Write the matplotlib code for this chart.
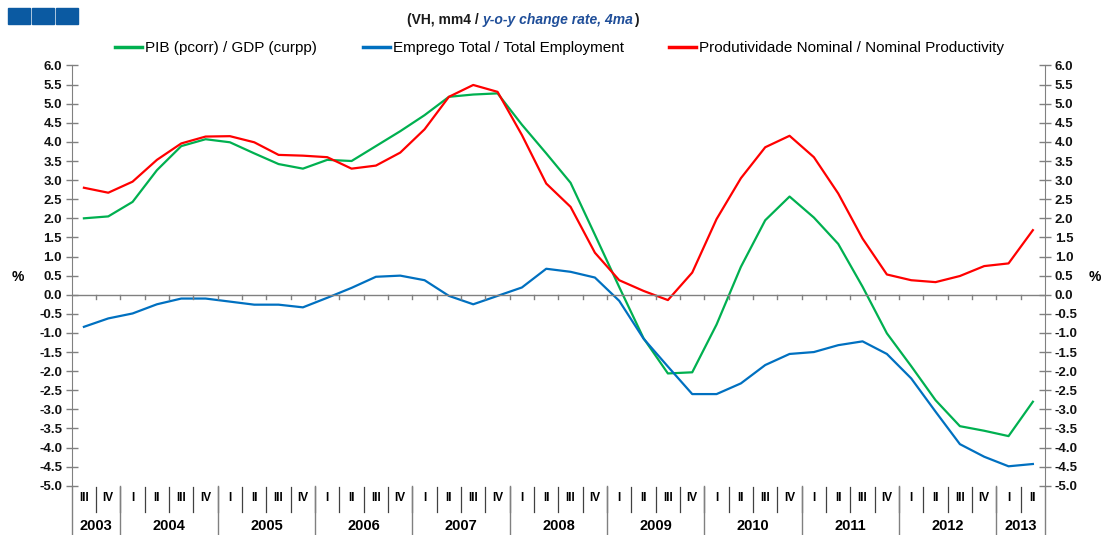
import matplotlib
matplotlib.use("Agg")
import matplotlib.pyplot as plt
from matplotlib.patches import Rectangle
from matplotlib.lines import Line2D

plt.rcParams['font.family'] = ['Liberation Sans', 'DejaVu Sans']

# trimestres 2003 III -> 2013 II
trimestres = ['III', 'IV'] + ['I', 'II', 'III', 'IV'] * 9 + ['I', 'II']
anos = ['2003', '2004', '2005', '2006', '2007', '2008', '2009', '2010', '2011', '2012', '2013']
n_trim_ano = [2, 4, 4, 4, 4, 4, 4, 4, 4, 4, 2]

pib = [2.0, 2.05, 2.43, 3.26, 3.89, 4.07, 3.99, 3.70, 3.42, 3.30,
       3.53, 3.50, 3.89, 4.28, 4.70, 5.18, 5.24, 5.27, 4.45, 3.70,
       2.93, 1.57, 0.20, -1.14, -2.06, -2.03, -0.78, 0.73, 1.95, 2.57,
       2.02, 1.33, 0.21, -1.01, -1.87, -2.76, -3.44, -3.56, -3.70, -2.80]
emprego = [-0.84, -0.62, -0.49, -0.25, -0.10, -0.10, -0.18, -0.26, -0.26, -0.33,
           -0.08, 0.18, 0.47, 0.50, 0.38, -0.03, -0.25, -0.03, 0.19, 0.68,
           0.60, 0.45, -0.16, -1.15, -1.88, -2.60, -2.60, -2.32, -1.84, -1.55,
           -1.50, -1.32, -1.22, -1.55, -2.19, -3.06, -3.91, -4.24, -4.49, -4.43]
produtividade = [2.80, 2.67, 2.96, 3.53, 3.96, 4.14, 4.15, 3.99, 3.66, 3.64,
                 3.60, 3.30, 3.38, 3.72, 4.33, 5.18, 5.49, 5.31, 4.18, 2.91,
                 2.30, 1.10, 0.38, 0.10, -0.14, 0.58, 1.98, 3.05, 3.86, 4.16,
                 3.60, 2.65, 1.47, 0.53, 0.38, 0.33, 0.49, 0.75, 0.82, 1.69]

nomes = ['PIB (pcorr) / GDP (curpp)', 'Emprego Total / Total Employment',
         'Produtividade Nominal / Nominal Productivity']
cores = ['#00B050', '#0070C0', '#FF0000']

fig = plt.figure(figsize=(11.04, 5.35), dpi=100)
ax = fig.add_axes([0.065, 0.092, 0.8816, 0.7856])

n = len(trimestres)
x = [i + 0.5 for i in range(n)]
for serie, cor in zip([pib, emprego, produtividade], cores):
    ax.plot(x, serie, color=cor, lw=1.6, solid_joinstyle='round')

ax.set_xlim(0, n)
ax.set_ylim(-5, 6)
ax.set_yticks([v / 2 for v in range(-10, 13)])
ax.set_yticklabels([f'{v / 2:.1f}' for v in range(-10, 13)])
ax.tick_params(axis='y', direction='inout', length=8, width=1, color='#808080',
               left=True, right=True, labelleft=True, labelright=True,
               labelsize=9.5, pad=3, labelcolor='#111111')
for lab in ax.yaxis.get_ticklabels():
    lab.set_fontweight('bold')
ax.set_xticks([])
for s in ['top', 'bottom']:
    ax.spines[s].set_visible(False)
for s in ['left', 'right']:
    ax.spines[s].set_color('#808080')

# linha do zero com marcas entre trimestres
ax.axhline(0, color='#808080', lw=1)
trans = ax.get_xaxis_transform()
y0 = 5 / 11
for b in range(1, n):
    ax.plot([b, b], [y0, y0 - 0.011], color='#808080', lw=1, transform=trans)

# eixo de categorias
for i, q in enumerate(trimestres):
    ax.text(i + 0.5, -0.028, q, transform=trans, ha='center', va='center',
            fontsize=8.5, fontweight='heavy')
    if i > 0:
        ax.plot([i, i], [-0.003, -0.062], color='#404040', lw=0.9,
                transform=trans, clip_on=False)
pos = 0
for ano, k in zip(anos, n_trim_ano):
    ax.text(pos + k / 2, -0.095, ano, transform=trans, ha='center', va='center',
            fontsize=10.5, fontweight='bold')
    ax.plot([pos, pos], [0, -0.13], color='#808080', lw=1, transform=trans, clip_on=False)
    pos += k
ax.plot([pos, pos], [0, -0.13], color='#808080', lw=1, transform=trans, clip_on=False)

# unidades
fig.text(18 / 1104, 1 - 277 / 535, '%', fontsize=10, fontweight='bold',
         ha='center', va='center')
fig.text(1095 / 1104, 1 - 277 / 535, '%', fontsize=10, fontweight='bold',
         ha='center', va='center')

# legenda
handles = [Line2D([], [], color=c, lw=2.5) for c in cores]
fig.legend(handles, nomes, loc='center', bbox_to_anchor=(0.507, 1 - 48 / 535),
           ncol=3, frameon=False, fontsize=11, handlelength=1.75,
           handletextpad=0.2, columnspacing=3.0)

# subtitulo em tres partes
fig.canvas.draw()
r = fig.canvas.get_renderer()
ysub = 1 - 20 / 535
partes = [('(VH, mm4 / ', 'normal', '#1a1a1a'),
          ('y-o-y change rate, 4ma', 'italic', '#1F4E99'),
          (')', 'normal', '#1a1a1a')]
textos = [fig.text(0, ysub, t, fontsize=10, fontweight='bold', style=st, color=c,
                   ha='left', va='center') for t, st, c in partes]
larguras = [t.get_window_extent(r).width for t in textos]
xpx = 523 - sum(larguras) / 2
for t, w in zip(textos, larguras):
    t.set_x(xpx / 1104)
    xpx += w

# logotipo
for k in range(3):
    fig.patches.append(Rectangle(((8 + 24 * k) / 1104, 1 - 24 / 535), 22 / 1104, 16 / 535,
                                 transform=fig.transFigure, color='#0B5AA2'))

fig.savefig('out.png', dpi=100)
